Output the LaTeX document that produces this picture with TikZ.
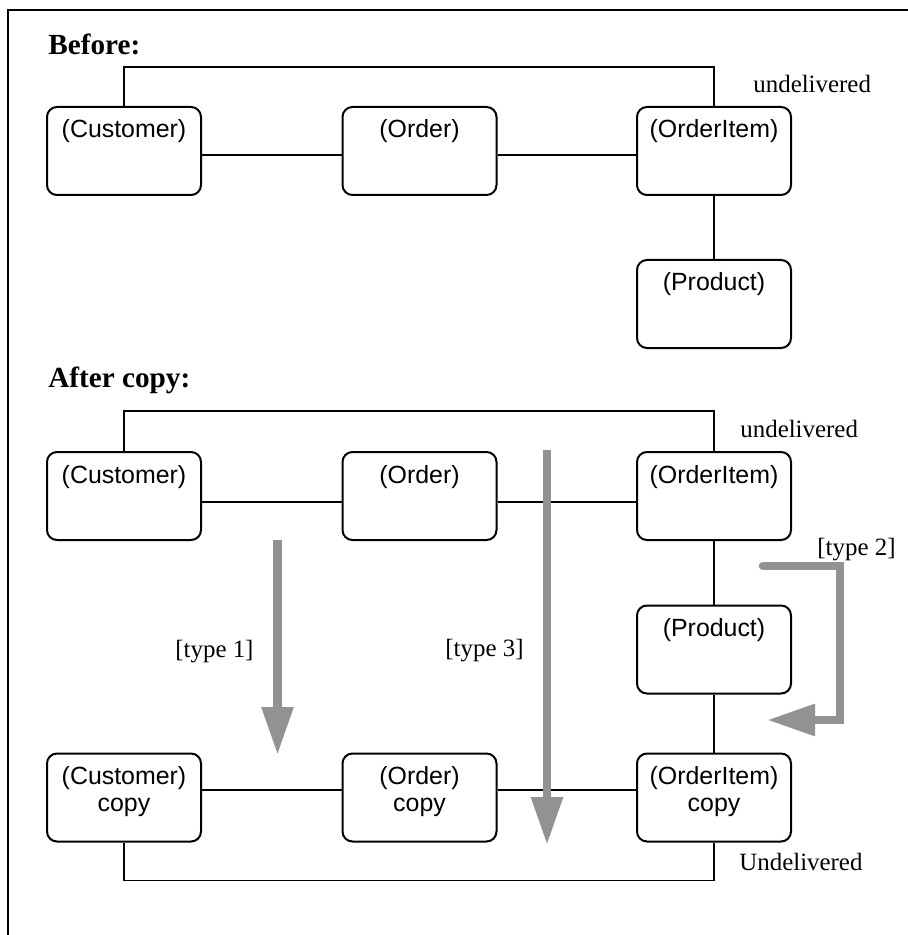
\documentclass[tikz,border=0pt]{standalone}
\usepackage{fontspec}
\setmainfont{Liberation Serif}
\newfontfamily\boxfont{Liberation Sans}
\usetikzlibrary{arrows.meta}
\definecolor{arrgray}{RGB}{146,146,146}
\tikzset{
  ent/.style={draw, rounded corners=5pt, line width=1pt, minimum width=77pt, minimum height=44pt, inner sep=0pt},
  conn/.style={line width=0.85pt},
  boxtxt/.style={font=\boxfont\fontsize{12.45}{13.5}\selectfont, inner sep=0pt, align=center, anchor=base},
  lbl/.style={font=\fontsize{12.45}{14}\selectfont, inner sep=0pt, anchor=base west},
  head/.style={font=\bfseries\fontsize{14.6}{16}\selectfont, inner sep=0pt, anchor=base west},
  bigarrow/.style={draw=arrgray, line width=4.3pt, -{Triangle[length=24pt, width=15pt]}},
}
\begin{document}
\begin{tikzpicture}[x=0.5pt, y=-0.5pt]
\useasboundingbox (0,0) rectangle (908,935);
% frame
\draw[line width=1.35pt] (8,940) -- (8,10) -- (915,10);

% ---------- Before ----------
\node[head] (hB) at (48,55) {Before:};
\node[ent] (cB) at (124,151) {};
\node[ent] (oB) at (419.5,151) {};
\node[ent] (iB) at (714,151) {};
\node[ent] (pB) at (714,304) {};
\node[boxtxt] (cBt) at ([yshift=-16pt]cB.north) {(Customer)};
\node[boxtxt] (oBt) at ([yshift=-16pt]oB.north) {(Order)};
\node[boxtxt] (iBt) at ([yshift=-16pt]iB.north) {(OrderItem)};
\node[boxtxt] (pBt) at ([yshift=-16pt]pB.north) {(Product)};
\draw[conn] ([yshift=-2pt]cB.east) -- ([yshift=-2pt]oB.west);
\draw[conn] ([yshift=-2pt]oB.east) -- ([yshift=-2pt]iB.west);
\draw[conn] (iB.south) -- (pB.north);
\draw[conn] (cB.north) -- ++(0,-39) -| (iB.north);
\node[lbl] (uB) at (753,93) {undelivered};

% ---------- After ----------
\node[head] (hA) at (48,387) {After copy:};
\node[ent] (cA) at (124,496) {};
\node[ent] (oA) at (419.5,496) {};
\node[ent] (iA) at (714,496) {};
\node[ent] (pA) at (714,649.5) {};
\node[ent] (cC) at (124,797.5) {};
\node[ent] (oC) at (419.5,797.5) {};
\node[ent] (iC) at (714,797.5) {};
\node[boxtxt] (cAt) at ([yshift=-16pt]cA.north) {(Customer)};
\node[boxtxt] (oAt) at ([yshift=-16pt]oA.north) {(Order)};
\node[boxtxt] (iAt) at ([yshift=-16pt]iA.north) {(OrderItem)};
\node[boxtxt] (pAt) at ([yshift=-16pt]pA.north) {(Product)};
\node[boxtxt] (cCt) at ([yshift=-29.5pt]cC.north) {(Customer)\\copy};
\node[boxtxt] (oCt) at ([yshift=-29.5pt]oC.north) {(Order)\\copy};
\node[boxtxt] (iCt) at ([yshift=-29.5pt]iC.north) {(OrderItem)\\copy};
\draw[conn] ([yshift=-3pt]cA.east) -- ([yshift=-3pt]oA.west);
\draw[conn] ([yshift=-3pt]oA.east) -- ([yshift=-3pt]iA.west);
\draw[conn] (iA.south) -- (pA.north);
\draw[conn] (pA.south) -- (iC.north);
\draw[conn] ([yshift=3.75pt]cC.east) -- ([yshift=3.75pt]oC.west);
\draw[conn] ([yshift=3.75pt]oC.east) -- ([yshift=3.75pt]iC.west);
\draw[conn] (cA.north) -- ++(0,-40) -| (iA.north);
\draw[conn] (cC.south) -- ++(0,38) -| (iC.south);
\node[lbl] (uA) at (740,437) {undelivered};
\node[lbl] (uC) at (739,870) {Undelivered};

% copy arrows
\coordinate (a1s) at (277.5,540);
\coordinate (a1e) at (277.5,755);
\coordinate (a3s) at (547,450);
\coordinate (a3e) at (547,845);
\coordinate (a2s) at (763,566);
\coordinate (a2c1) at (840,566);
\coordinate (a2c2) at (840,720);
\coordinate (a2e) at (767,720);
\draw[bigarrow] (a1s) -- (a1e);
\draw[bigarrow] (a3s) -- (a3e);
\draw[bigarrow, line cap=round] (a2s) -- (a2c1) -- (a2c2) -- (a2e);
\node[lbl] (t1) at (175,657) {[type 1]};
\node[lbl] (t3) at (445,656) {[type 3]};
\node[lbl] (t2) at (817,555) {[type 2]};
\end{tikzpicture}
\end{document}
